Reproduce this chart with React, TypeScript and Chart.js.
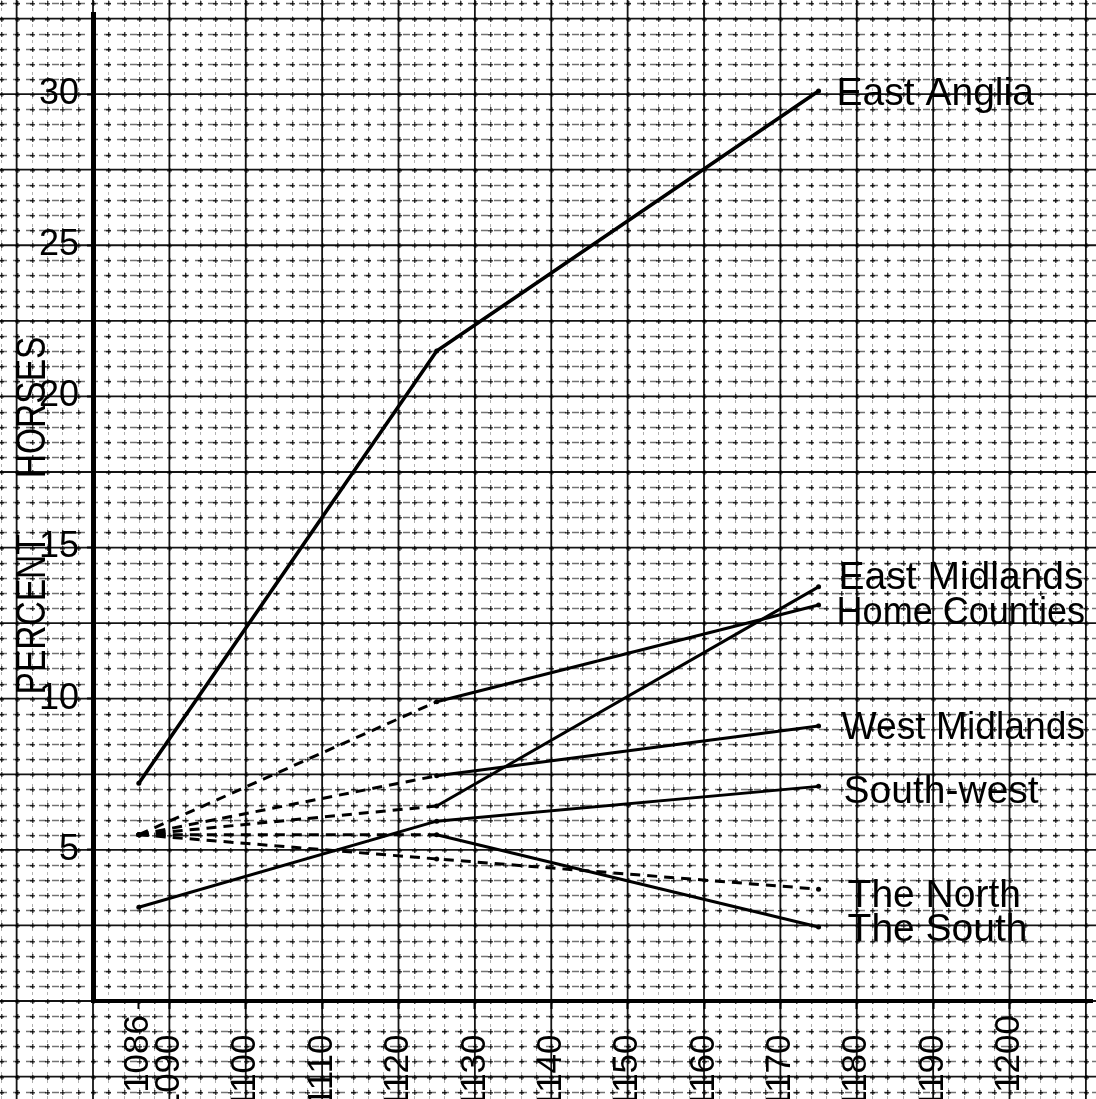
import React, { useEffect, useRef } from "react";
import { Chart, registerables } from "chart.js";

Chart.register(...registerables);

// ---------- data ----------
const years = [1086, 1125, 1175];
const seriesNames = [
  "East Anglia",
  "East Midlands",
  "Home Counties",
  "West Midlands",
  "South-west",
  "The North",
  "The South",
];
const eastAnglia = [7.2, 21.5, 30.1];
const eastMidlands = [5.5, 6.45, 13.7];
const homeCounties = [5.5, 9.9, 13.1];
const westMidlands = [5.5, 7.45, 9.1];
const southWest = [3.1, 5.95, 7.1];
const theNorth = [5.5, 4.7, 3.7];
const theSouth = [5.5, 5.5, 2.45];
const seriesValues = [eastAnglia, eastMidlands, homeCounties, westMidlands, southWest, theNorth, theSouth];
// segments between consecutive years drawn dashed
const dashedSegments = [
  [false, false],
  [true, false],
  [true, false],
  [true, false],
  [false, false],
  [true, true],
  [true, false],
];
const xTickValues = [1086, 1090, 1100, 1110, 1120, 1130, 1140, 1150, 1160, 1170, 1180, 1190, 1200];
const yTickValues = [5, 10, 15, 20, 25, 30];
const yAxisTitle = "PERCENT      HORSES";

// ---------- styles ----------
const X_MIN = 1080;
const X_MAX = 1210.8;
const Y_MIN = 0;
const Y_MAX = 32.65;
const labelDx = [18, 20, 18, 23, 25, 29, 29];
const labelDy = [3, -9, 8, 2, 6, 7, 3];
const lineWidths = [3.6, 3, 3, 3, 3, 3, 3];
const xLabelTrail = [0, 2, 2, 2, 2, 2, 2, 2, 2, 2, 2, 2, 0];
const FONT = "'Liberation Sans', Arial, sans-serif";

const paperPlugin = {
  id: "paper",
  beforeDraw(chart: any) {
    const { ctx, width, height } = chart;
    const xs = chart.scales.x;
    const ys = chart.scales.y;
    ctx.save();
    ctx.fillStyle = "#ffffff";
    ctx.fillRect(0, 0, width, height);
    const xa = xs.getValueForPixel(0);
    const xb = xs.getValueForPixel(width);
    const ya = ys.getValueForPixel(height);
    const yb = ys.getValueForPixel(0);
    const vx: number[] = [];
    for (let k = Math.ceil(xa / 2); k * 2 <= xb; k++) vx.push(k * 2);
    const vy: number[] = [];
    for (let k = Math.ceil(ya * 2); k / 2 <= yb; k++) vy.push(k / 2);
    // minor vertical lines (faint)
    ctx.strokeStyle = "rgba(0,0,0,0.3)";
    ctx.lineWidth = 1;
    ctx.setLineDash([3, 5]);
    vx.forEach((v) => {
      if (v % 10 === 0) return;
      const px = Math.round(xs.getPixelForValue(v)) + 0.5;
      ctx.beginPath();
      ctx.moveTo(px, 0);
      ctx.lineTo(px, height);
      ctx.stroke();
    });
    // minor horizontal lines (dashed)
    ctx.strokeStyle = "rgba(0,0,0,0.55)";
    ctx.lineWidth = 1.3;
    ctx.setLineDash([7, 6]);
    vy.forEach((v) => {
      if (Math.abs(v / 2.5 - Math.round(v / 2.5)) < 1e-6) return;
      const py = Math.round(ys.getPixelForValue(v)) + 0.5;
      ctx.beginPath();
      ctx.moveTo(0, py);
      ctx.lineTo(width, py);
      ctx.stroke();
    });
    // crossing marks
    ctx.setLineDash([]);
    ctx.fillStyle = "rgba(0,0,0,0.7)";
    vx.forEach((a) => {
      const px = Math.round(xs.getPixelForValue(a));
      vy.forEach((b) => {
        const py = Math.round(ys.getPixelForValue(b));
        ctx.fillRect(px - 2, py, 5, 1.5);
        ctx.fillRect(px, py - 2, 1.5, 5);
      });
    });
    // major lines
    ctx.strokeStyle = "rgba(0,0,0,0.92)";
    ctx.lineWidth = 1.8;
    for (let k = Math.ceil(xa / 10); k * 10 <= xb; k++) {
      const px = xs.getPixelForValue(k * 10);
      ctx.beginPath();
      ctx.moveTo(px, 0);
      ctx.lineTo(px, height);
      ctx.stroke();
    }
    for (let k = Math.ceil(ya / 2.5); k * 2.5 <= yb; k++) {
      const py = ys.getPixelForValue(k * 2.5);
      ctx.beginPath();
      ctx.moveTo(0, py);
      ctx.lineTo(width, py);
      ctx.stroke();
    }
    ctx.restore();
  },
};

const textPlugin = {
  id: "texts",
  afterDatasetsDraw(chart: any) {
    const ctx = chart.ctx;
    ctx.save();
    ctx.font = `39px ${FONT}`;
    ctx.fillStyle = "#000";
    ctx.textAlign = "left";
    ctx.textBaseline = "middle";
    chart.data.datasets.forEach((ds: any, i: number) => {
      const meta = chart.getDatasetMeta(i);
      const pt = meta.data[meta.data.length - 1];
      const x = pt.x + labelDx[i];
      ctx.fillText(ds.label, x, pt.y + labelDy[i], chart.width - 11 - x);
    });
    // y axis title, condensed to fit beside the axis
    const area = chart.chartArea;
    ctx.font = `42px ${FONT}`;
    ctx.textAlign = "center";
    ctx.translate(area.left - 60, (area.top + area.bottom) / 2 + 8);
    ctx.rotate(-Math.PI / 2);
    ctx.fillText(yAxisTitle, 0, 0, 358);
    ctx.restore();
  },
};

export default function App() {
  const ref = useRef<HTMLCanvasElement>(null);
  useEffect(() => {
    document.body.style.margin = "0";
    const canvas = ref.current!;
    const datasets = seriesNames.map((name, i) => ({
      label: name,
      data: years.map((yr, j) => ({ x: yr, y: seriesValues[i][j] })),
      borderColor: "#000",
      backgroundColor: "#000",
      borderWidth: lineWidths[i],
      pointRadius: 2.5,
      pointBorderWidth: 0,
      pointBackgroundColor: "#000",
      tension: 0,
      borderJoinStyle: "round",
      borderCapStyle: "butt",
      segment: {
        borderDash: (c: any) => (dashedSegments[i][c.p0DataIndex] ? [10, 7] : []),
      },
    }));
    const chart = new Chart(canvas, {
      type: "line",
      data: { datasets } as any,
      plugins: [paperPlugin, textPlugin],
      options: {
        animation: false,
        responsive: false,
        devicePixelRatio: 1,
        layout: { padding: { top: 14, left: 0, right: 0, bottom: 0 } },
        plugins: { legend: { display: false }, tooltip: { enabled: false } },
        scales: {
          x: {
            type: "linear",
            min: X_MIN,
            max: X_MAX,
            afterBuildTicks: (s: any) => {
              s.ticks = xTickValues.map((v) => ({ value: v }));
            },
            afterFit: (s: any) => {
              s.height = 98;
              s.paddingLeft = 0;
              s.paddingRight = 0;
            },
            border: { display: true, width: 4, color: "#000" },
            grid: {
              display: true,
              drawOnChartArea: false,
              drawTicks: true,
              tickLength: 8,
              tickWidth: 2,
              tickColor: "#000",
              color: "#000",
            },
            ticks: {
              autoSkip: false,
              minRotation: 90,
              maxRotation: 90,
              padding: 6,
              color: "#000",
              font: { family: FONT, size: 35 },
              callback: (v: any) => {
                const idx = xTickValues.indexOf(Number(v));
                return String(v) + " ".repeat(idx >= 0 ? xLabelTrail[idx] : 0);
              },
            },
          },
          y: {
            type: "linear",
            min: Y_MIN,
            max: Y_MAX,
            afterBuildTicks: (s: any) => {
              s.ticks = yTickValues.map((v) => ({ value: v }));
            },
            afterFit: (s: any) => {
              s.width = 93;
              s.paddingTop = 0;
              s.paddingBottom = 0;
            },
            border: { display: true, width: 5, color: "#000" },
            grid: {
              display: true,
              drawOnChartArea: false,
              drawTicks: true,
              tickLength: 6,
              tickWidth: 2,
              tickColor: "#000",
              color: "#000",
            },
            ticks: {
              padding: 8,
              color: "#000",
              font: { family: FONT, size: 36 },
              callback: (v: any) => String(v),
            },
          },
        },
      } as any,
    });
    return () => chart.destroy();
  }, []);
  return <canvas ref={ref} width={1096} height={1099} style={{ display: "block" }} />;
}
